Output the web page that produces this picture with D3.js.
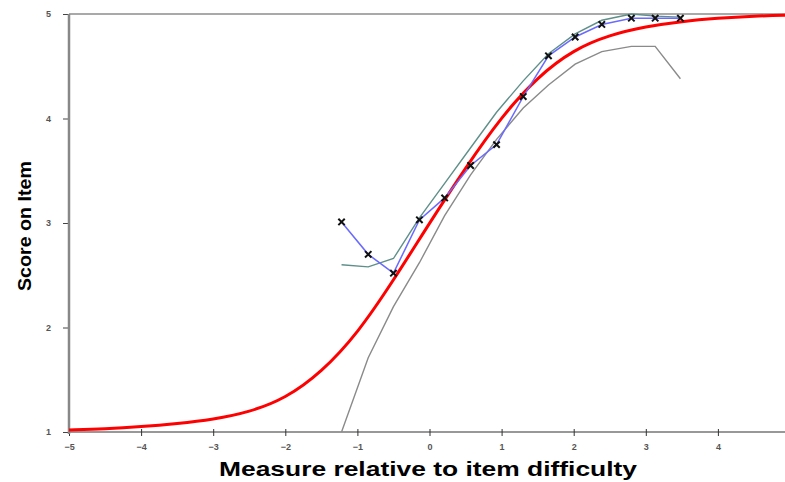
<!DOCTYPE html>
<html>
<head>
<meta charset="utf-8">
<script src="https://cdn.jsdelivr.net/npm/d3@7"></script>
<style>
  body { margin: 0; background: #fff; }
  svg { font-family: "Liberation Sans", Arial, sans-serif; }
  .tick text { font-size: 9px; font-weight: bold; fill: #555; }
  .axis-label { font-weight: bold; fill: #000; }
</style>
</head>
<body>
<svg width="785" height="482"></svg>
<script>
// model expected score curve
const modelX = [-5, -4.5, -4, -3.5, -3, -2.5, -2, -1.5, -1, -0.5, 0, 0.5, 1, 1.5, 2, 2.5, 3, 3.5, 4, 4.5, 5];
const modelY = [1.02, 1.03, 1.05, 1.08, 1.12, 1.19, 1.32, 1.57, 1.94, 2.45, 3.0, 3.53, 4.02, 4.4, 4.66, 4.8, 4.88, 4.93, 4.96, 4.98, 4.99];

// empirical observations
const obsX = [-1.22, -0.85, -0.5, -0.14, 0.21, 0.57, 0.93, 1.3, 1.65, 2.02, 2.39, 2.8, 3.13, 3.48];
const obsY = [3.01, 2.7, 2.52, 3.03, 3.24, 3.55, 3.75, 4.21, 4.6, 4.78, 4.9, 4.96, 4.96, 4.96];

// confidence band
const upperY = [2.6, 2.58, 2.66, 3.05, 3.38, 3.72, 4.06, 4.36, 4.62, 4.81, 4.94, 5.0, 4.98, 4.97];
const lowerY = [1.0, 1.71, 2.2, 2.62, 3.07, 3.46, 3.8, 4.1, 4.32, 4.52, 4.64, 4.69, 4.69, 4.38];

const xTicks = [-5, -4, -3, -2, -1, 0, 1, 2, 3, 4];
const yTicks = [1, 2, 3, 4, 5];

const svg = d3.select("svg");
const width = +svg.attr("width");

const xScale = d3.scaleLinear().domain([-5, 5]).range([69, 790]);
const yScale = d3.scaleLinear().domain([1, 5]).range([432, 14]);

// frame
svg.append("line")
  .attr("x1", 69).attr("x2", width)
  .attr("y1", yScale(5)).attr("y2", yScale(5))
  .attr("stroke", "#555").attr("stroke-width", 1.2);

// x axis
const xAxisG = svg.append("g")
  .attr("transform", `translate(0, ${yScale(1)})`)
  .call(d3.axisBottom(xScale).tickValues(xTicks).tickFormat(d3.format("d")).tickSize(4).tickPadding(8));
xAxisG.select(".domain").remove();
xAxisG.selectAll(".tick line").attr("y1", -3).attr("stroke", "#333");
xAxisG.append("line")
  .attr("x1", 69).attr("x2", width)
  .attr("stroke", "#333").attr("stroke-width", 1.2);

// y axis
const yAxisG = svg.append("g")
  .attr("transform", `translate(69, 0)`)
  .call(d3.axisLeft(yScale).tickValues(yTicks).tickFormat(d3.format("d")).tickSize(6).tickPadding(12));
yAxisG.select(".domain").remove();
yAxisG.selectAll(".tick line").attr("stroke", "#444");
yAxisG.append("line")
  .attr("y1", yScale(5)).attr("y2", yScale(1) + 2)
  .attr("stroke", "#888").attr("stroke-width", 2.5);

svg.selectAll(".tick text").attr("fill", "#555");

const line = d3.line()
  .x((d) => xScale(d[0]))
  .y((d) => yScale(d[1]));

svg.append("path")
  .datum(obsX.map((x, i) => [x, lowerY[i]]))
  .attr("d", line)
  .attr("fill", "none").attr("stroke", "#8a8a8a").attr("stroke-width", 1.4);

svg.append("path")
  .datum(obsX.map((x, i) => [x, upperY[i]]))
  .attr("d", line)
  .attr("fill", "none").attr("stroke", "#5f8f8a").attr("stroke-width", 1.4);

svg.append("path")
  .datum(modelX.map((x, i) => [x, modelY[i]]))
  .attr("d", line.curve(d3.curveBasis))
  .attr("fill", "none").attr("stroke", "#ff0000").attr("stroke-width", 3);

line.curve(d3.curveLinear);
svg.append("path")
  .datum(obsX.map((x, i) => [x, obsY[i]]))
  .attr("d", line)
  .attr("fill", "none").attr("stroke", "#6a6aff").attr("stroke-width", 1.5);

const s = 3.2;
svg.selectAll(".mark")
  .data(obsX.map((x, i) => [x, obsY[i]]))
  .join("path")
  .attr("class", "mark")
  .attr("d", (d) => {
    const cx = xScale(d[0]), cy = yScale(d[1]);
    return `M${cx - s},${cy - s}L${cx + s},${cy + s}M${cx - s},${cy + s}L${cx + s},${cy - s}`;
  })
  .attr("stroke", "#111").attr("stroke-width", 2);

svg.append("text")
  .attr("class", "axis-label")
  .attr("x", 428).attr("y", 476)
  .attr("text-anchor", "middle")
  .style("font-size", "21px")
  .attr("textLength", 418)
  .attr("lengthAdjust", "spacingAndGlyphs")
  .text("Measure relative to item difficulty");

svg.append("text")
  .attr("class", "axis-label")
  .attr("transform", "translate(31, 226) rotate(-90)")
  .attr("text-anchor", "middle")
  .style("font-size", "19px")
  .attr("textLength", 130)
  .attr("lengthAdjust", "spacingAndGlyphs")
  .text("Score on Item");
</script>
</body>
</html>
